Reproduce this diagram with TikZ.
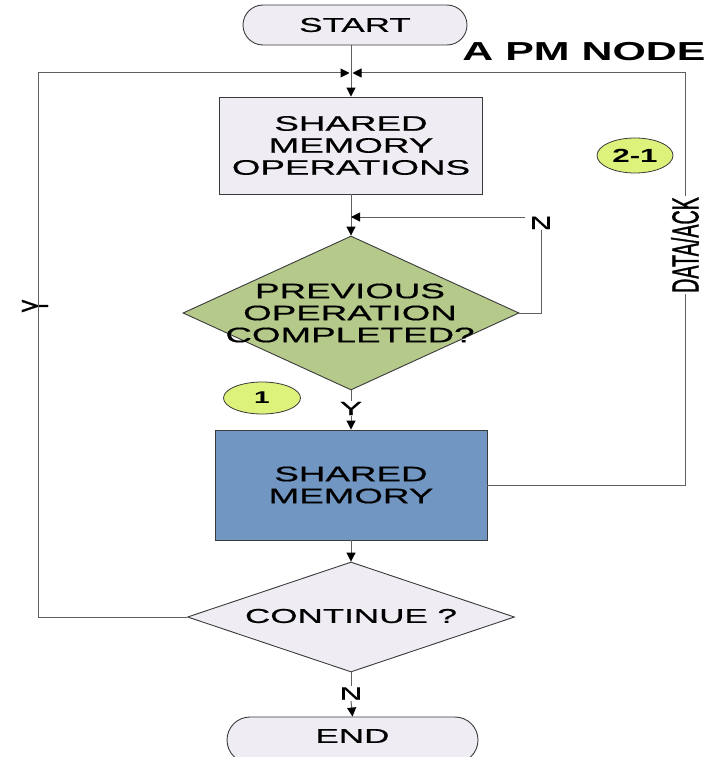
\documentclass[tikz,border=0pt]{standalone}
\usepackage{fontspec}
\setmainfont{Liberation Sans}
\newfontfamily\wf[FakeStretch=1.75,FakeBold=0.6]{Liberation Sans}
\newfontfamily\wbf[FakeStretch=1.65]{Liberation Sans Bold}
\newfontfamily\nf[FakeStretch=0.52,FakeBold=0.8]{Liberation Sans}
\usetikzlibrary{shapes.geometric,shapes.misc,arrows.meta}

\definecolor{paleBox}{HTML}{EFEDF3}
\definecolor{sage}{HTML}{B5C98B}
\definecolor{lime}{HTML}{DDF27A}
\definecolor{steel}{HTML}{7096C1}
\definecolor{edgec}{HTML}{3A3A3A}
\definecolor{wirec}{HTML}{606060}

\tikzset{
  shapebox/.style={draw=edgec, line width=0.9pt, fill=#1, inner sep=0pt},
  txt/.style={font=\wf\fontsize{21}{22}\selectfont, align=center, inner sep=0pt},
  smalltxt/.style={font=\wf\fontsize{#1}{#1}\selectfont, inner sep=1pt},
  tall/.style={font=\nf\fontsize{38}{38}\selectfont, rotate=90, inner sep=1pt},
  wire/.style={draw=wirec, line width=1pt},
  arr/.style={wire, -{Triangle[length=9pt,width=9pt,color=black]}},
  oval/.style={shape=ellipse, draw=edgec, line width=0.8pt, fill=lime, inner sep=0pt},
}

\begin{document}
\begin{tikzpicture}[x=1pt,y=-1pt]
  \useasboundingbox (0,0) rectangle (714,757);
  \clip (0,0) rectangle (714,757);

  % terminals
  \node[shapebox=paleBox, rounded rectangle, minimum width=224pt, minimum height=40pt]
    (start) at (355,25) {};
  \node[txt, font=\wf\fontsize{20}{20}\selectfont] (starttxt) at (start.center) {START};
  \node[shapebox=paleBox, rounded rectangle, minimum width=251pt, minimum height=46pt]
    (end) at (352.5,740) {};
  \node[txt, font=\wf\fontsize{20}{20}\selectfont] (endtxt) at (352.5,736) {END};

  % title
  \node[font=\wbf\fontsize{26}{26}\selectfont, inner sep=0pt] (title) at (584,52) {A PM NODE};

  % processing boxes
  \node[shapebox=paleBox, minimum width=263pt, minimum height=97pt] (ops) at (351,145.5) {};
  \node[txt] (opstxt) at (ops.center) {SHARED\\MEMORY\\OPERATIONS};
  \node[shapebox=steel, minimum width=272pt, minimum height=110pt] (mem) at (351,485) {};
  \node[txt] (memtxt) at (mem.center) {SHARED\\MEMORY};

  % decisions
  \node[shapebox=sage, diamond, minimum width=336pt, minimum height=154pt] (prev) at (351,313) {};
  \node[txt] (prevtxt) at (350,313) {PREVIOUS\\OPERATION\\COMPLETED?};
  \node[shapebox=paleBox, diamond, minimum width=327pt, minimum height=110pt] (cont) at (351,617) {};
  \node[txt, font=\wf\fontsize{20}{20}\selectfont] (conttxt) at (351,616) {CONTINUE ?};

  % step markers
  \node[oval, minimum width=77pt, minimum height=32pt] (m1) at (262,398)
    {\wbf\fontsize{17}{17}\selectfont 1};
  \node[oval, minimum width=76pt, minimum height=35pt] (m21) at (635,155.5)
    {\wbf\fontsize{19}{19}\selectfont 2-1};

  % junction above the first box
  \coordinate (jn) at (351,73);

  % branch labels
  \node[smalltxt=18] (nloop) at (541,223) {N};
  \coordinate (nback) at (525,217);
  \node[smalltxt=19] (yes1) at (351,408.5) {Y};
  \node[smalltxt=18] (no2) at (351,693.5) {N};
  \node[tall] (yloop) at (35,306) {Y};
  \node[tall, fill=white] (data) at (685,245) {DATA/ACK};

  % main flow
  \draw[arr] (start.south -| jn) -- (ops.north);
  \draw[arr] (ops.south) -- (prev.north);
  \draw[wire] (prev.south) -- (yes1.north);
  \draw[arr] (yes1.south) -- (mem.north);
  \draw[arr] (mem.south) -- (cont.north);
  \draw[wire] (cont.south) -- (no2.north);
  \draw[arr] (no2.south) -- (end.north);

  % retry loop
  \draw[wire] (prev.east) -| (nloop.south);
  \draw[arr] (nback) -- (nback -| ops.south);

  % continue loop on the left
  \draw[arr, shorten >=1.5pt] (cont.west) -| (38,73) -- (jn);

  % data / acknowledge path on the right
  \draw[wire] (mem.east) -| (data.west);
  \draw[arr, shorten >=1.5pt] (data.east) |- (jn);
\end{tikzpicture}
\end{document}
